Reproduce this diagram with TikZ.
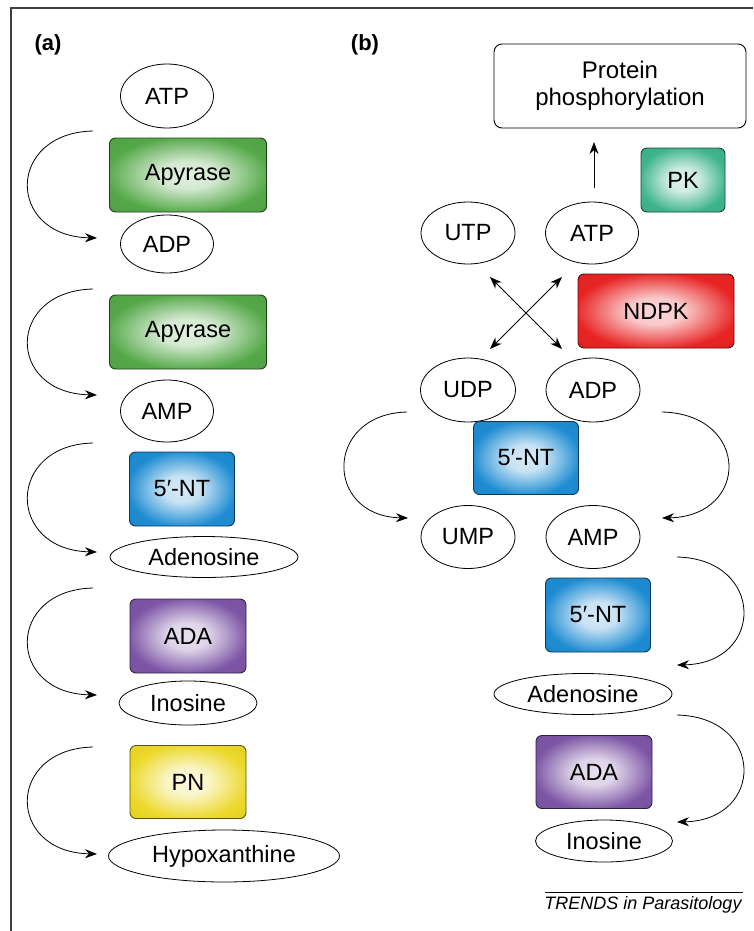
\documentclass[tikz,border=0pt]{standalone}
\usepackage{fontspec}
\setmainfont{Liberation Sans}
\usetikzlibrary{shapes.geometric,arrows.meta}
\definecolor{apyg}{RGB}{84,168,72}
\definecolor{ntb}{RGB}{30,140,210}
\definecolor{adap}{RGB}{125,85,165}
\definecolor{pny}{RGB}{236,216,40}
\definecolor{ndpkr}{RGB}{232,36,36}
\definecolor{pkt}{RGB}{62,180,140}
\newcommand{\mkshade}[1]{%
  \pgfdeclareradialshading{sh#1}{\pgfpoint{0bp}{0bp}}{%
    color(0bp)=(#1!18!white); color(9bp)=(#1!25!white); color(26bp)=(#1); color(50bp)=(#1!90!black)}}
\mkshade{apyg}\mkshade{ntb}\mkshade{adap}\mkshade{pny}\mkshade{ndpkr}\mkshade{pkt}
\begin{document}
\begin{tikzpicture}[x=1pt,y=-1pt,
  every node/.style={font=\fontsize{23.5}{27}\selectfont},
  mol/.style={ellipse,draw=black,line width=0.8pt,fill=white,inner sep=0pt},
  enz/.style={rectangle,rounded corners=6pt,draw=#1!40!black,line width=0.9pt,
    shading=sh#1,inner sep=0pt},
  conn/.style={line width=0.8pt,-{Stealth[length=12pt,width=9pt]}},
  dconn/.style={line width=0.8pt,{Stealth[length=12pt,width=9pt]}-{Stealth[length=12pt,width=9pt]}},
  lbl/.style={font=\bfseries\fontsize{22}{26}\selectfont}]
\useasboundingbox (0,0) rectangle (753,931);
% frame
\draw[line width=1.2pt,black!75] (11,931) -- (11,8) -- (753,8);
\node[lbl] (la) at (48,45) {(a)};
\node[lbl] (lb) at (365,45) {(b)};

% ---------- (a) ----------
\node[mol,minimum width=93pt,minimum height=64pt] (aATP) at (167,96) {ATP};
\node[enz=apyg,minimum width=157pt,minimum height=74pt] (apy1) at (188,175) {Apyrase};
\node[mol,minimum width=93pt,minimum height=58pt] (aADP) at (167,244) {ADP};
\node[enz=apyg,minimum width=157pt,minimum height=74pt] (apy2) at (188,332) {Apyrase};
\node[mol,minimum width=93pt,minimum height=62pt] (aAMP) at (167,411) {AMP};
\node[enz=ntb,minimum width=105pt,minimum height=74pt] (nt1) at (182,489) {5′-NT};
\node[mol,minimum width=188pt,minimum height=41pt] (aADO) at (204,557) {Adenosine};
\node[enz=adap,minimum width=116pt,minimum height=74pt] (ada1) at (188,636) {ADA};
\node[mol,minimum width=138pt,minimum height=44pt] (aINO) at (188,703) {Inosine};
\node[enz=pny,minimum width=116pt,minimum height=73pt] (pn) at (188,782) {PN};
\node[mol,minimum width=231pt,minimum height=52pt] (aHYP) at (224,856) {Hypoxanthine};

\foreach \i/\ya/\yb in {1/131/238,2/289/395,3/443/552,4/588/695,5/747/854}{
  \coordinate (as\i) at (93,\ya);
  \coordinate (ae\i) at (97,\yb);
  \draw[conn] (as\i) .. controls (6,\ya+2) and (6,\yb-2) .. (ae\i);
}

% ---------- (b) ----------
\node[draw,rounded corners=8pt,line width=0.9pt,minimum width=252pt,minimum height=84pt,
  align=center,font=\fontsize{24}{27}\selectfont] (pp) at (620,86) {Protein\\phosphorylation};
\node[enz=pkt,minimum width=84pt,minimum height=64pt] (pk) at (683,180) {PK};
\node[mol,minimum width=94pt,minimum height=62pt] (UTP) at (468,233) {UTP};
\node[mol,minimum width=93pt,minimum height=62pt] (bATP) at (592,233) {ATP};
\node[enz=ndpkr,minimum width=156pt,minimum height=74pt] (ndpk) at (656,311) {NDPK};
\node[mol,minimum width=95pt,minimum height=64pt] (UDP) at (468,390) {UDP};
\node[mol,minimum width=94pt,minimum height=64pt] (bADP) at (593,390) {ADP};
\node[enz=ntb,minimum width=105pt,minimum height=73pt] (nt2) at (526,458) {5′-NT};
\node[mol,minimum width=94pt,minimum height=63pt] (UMP) at (468,537) {UMP};
\node[mol,minimum width=94pt,minimum height=63pt] (bAMP) at (593,537) {AMP};
\node[enz=ntb,minimum width=105pt,minimum height=74pt] (nt3) at (598,615) {5′-NT};
\node[mol,minimum width=178pt,minimum height=41pt] (bADO) at (583,694) {Adenosine};
\node[enz=adap,minimum width=116pt,minimum height=73pt] (ada2) at (594,772) {ADA};
\node[mol,minimum width=137pt,minimum height=42pt] (bINO) at (604,841) {Inosine};

\coordinate (ups) at (594,188);
\coordinate (upe) at (594,142);
\draw[conn] (ups) -- (upe);

\coordinate (x1) at (490,277);
\coordinate (x2) at (562,349);
\coordinate (x3) at (490,349);
\coordinate (x4) at (562,277);
\draw[dconn] (x1) -- (x2);
\draw[dconn] (x3) -- (x4);

\coordinate (bl1) at (407,412);
\coordinate (bl2) at (408,518);
\draw[conn] (bl1) .. controls (324,414) and (324,516) .. (bl2);
\coordinate (br1) at (662,412);
\coordinate (br2) at (662,518);
\draw[conn] (br1) .. controls (750,414) and (750,516) .. (br2);
\coordinate (bc1) at (677,557);
\coordinate (bc2) at (677,665);
\draw[conn] (bc1) .. controls (765,559) and (765,663) .. (bc2);
\coordinate (bd1) at (677,715);
\coordinate (bd2) at (677,822);
\draw[conn] (bd1) .. controls (765,717) and (765,820) .. (bd2);

% credit
\coordinate (tl1) at (545,892);
\coordinate (tl2) at (743,892);
\draw[line width=0.8pt] (tl1) -- (tl2);
\node[anchor=base,font=\itshape\fontsize{18}{20}\selectfont] (trends) at (643,909) {TRENDS in Parasitology};
\end{tikzpicture}
\end{document}
